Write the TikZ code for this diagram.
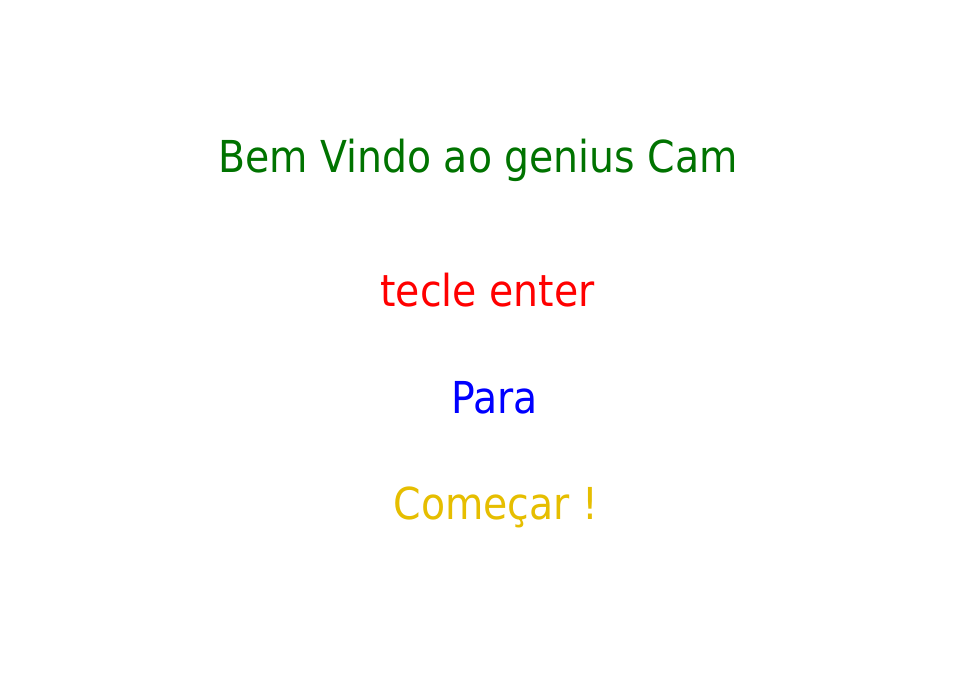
\documentclass[tikz,border=0pt]{standalone}
\usepackage{fontspec}
\newfontfamily\tahomalike[FakeStretch=0.895]{DejaVu Sans}
\definecolor{wgreen}{RGB}{0,115,0}
\definecolor{wred}{RGB}{255,0,0}
\definecolor{wblue}{RGB}{0,0,255}
\definecolor{wyellow}{RGB}{230,190,0}
\tikzset{msg/.style={anchor=base,inner sep=0pt,font=\tahomalike\fontsize{44bp}{50bp}\selectfont}}
\begin{document}
\begin{tikzpicture}[x=1bp,y=-1bp]
\useasboundingbox[fill=white] (0,0) rectangle (960,675);
\node[msg,text=wgreen] (l1) at (478,173) {Bem Vindo ao genius Cam};
\node[msg,text=wred] (l2) at (487.5,306) {tecle enter};
\node[msg,text=wblue] (l3) at (494.5,413) {Para};
\node[msg,text=wyellow] (l4) at (496,519) {Começar !};
\end{tikzpicture}
\end{document}
